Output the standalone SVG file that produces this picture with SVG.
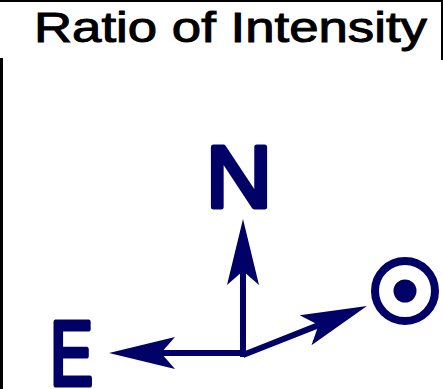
<svg xmlns="http://www.w3.org/2000/svg" width="443" height="389" viewBox="0 0 443 389">
  <style>
    .title { font-family: "Liberation Sans", "DejaVu Sans", sans-serif; font-size: 42px; fill: #000; stroke: #000; stroke-width: 1; }
    .lbl { font-family: "Liberation Sans", "DejaVu Sans", sans-serif; font-weight: normal; fill: #000066; stroke: #000066; stroke-width: 5; stroke-linejoin: round; stroke-linecap: round; }
    .shaft { stroke: #000066; stroke-width: 6; fill: none; }
    .frame { fill: #000; }
  </style>
  <defs>
    <marker id="barb" markerUnits="userSpaceOnUse" markerWidth="80" markerHeight="40" viewBox="-20 -20 80 40" refX="0" refY="0" orient="auto" overflow="visible">
      <path d="M52,0 L-14,-16 L0,0 L-14,16 Z" fill="#000066"/>
    </marker>
  </defs>
  <rect width="443" height="389" fill="#fff"/>
  <g id="frame">
    <rect class="frame" x="0" y="0" width="443" height="2"/>
    <rect class="frame" x="0" y="58" width="3" height="331"/>
    <rect class="frame" x="441" y="0" width="2" height="60"/>
  </g>
  <g id="title">
    <text class="title" x="34" y="42" textLength="393" lengthAdjust="spacingAndGlyphs">Ratio of Intensity</text>
  </g>
  <g id="connectors">
    <line class="shaft" x1="243" y1="357" x2="243" y2="271" marker-end="url(#barb)"/>
    <line class="shaft" x1="246" y1="353" x2="161" y2="353" marker-end="url(#barb)"/>
    <line class="shaft" x1="243" y1="355" x2="318.6" y2="325.1" marker-end="url(#barb)"/>
  </g>
  <g id="node-N">
    <text class="lbl" x="239" y="207" font-size="88" text-anchor="middle" textLength="66" lengthAdjust="spacingAndGlyphs">N</text>
  </g>
  <g id="node-E">
    <text class="lbl" x="50" y="385" font-size="90" textLength="43" lengthAdjust="spacingAndGlyphs">E</text>
  </g>
  <g id="node-out">
    <circle cx="405" cy="291" r="30" fill="none" stroke="#000066" stroke-width="8"/>
    <circle cx="405" cy="291" r="11.5" fill="#000066"/>
  </g>
</svg>
